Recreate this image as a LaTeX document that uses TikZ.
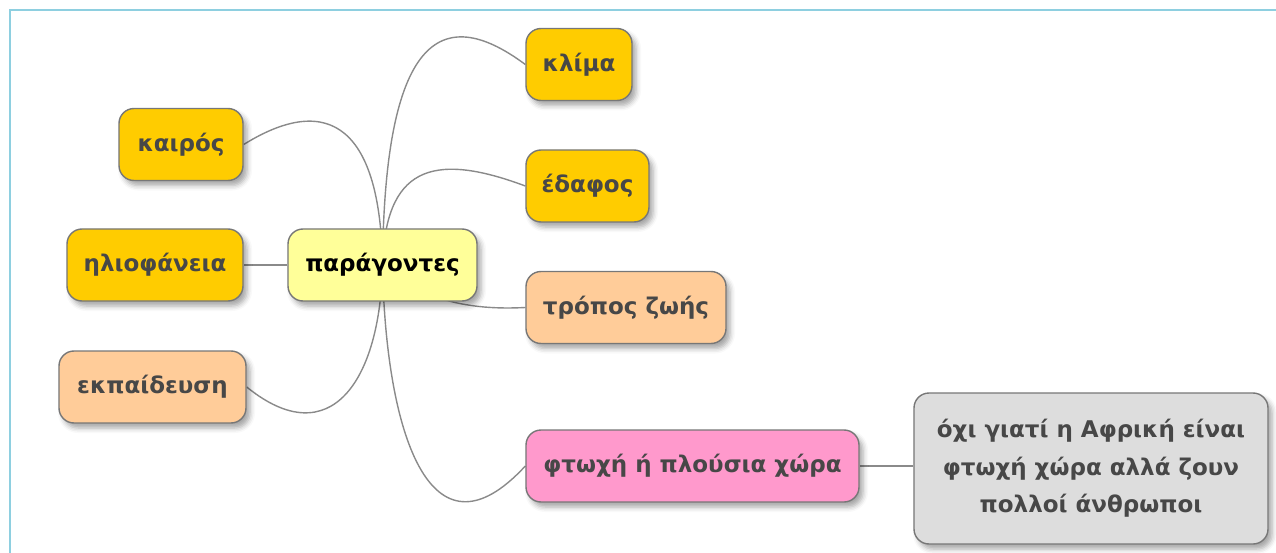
\documentclass[tikz,border=0pt]{standalone}
\usepackage{fontspec}
\setmainfont{DejaVu Sans}
\usetikzlibrary{shadows.blur,backgrounds}
\definecolor{framecol}{HTML}{8ECFE0}
\definecolor{gold}{HTML}{FFCC00}
\definecolor{paleyellow}{HTML}{FFFF99}
\definecolor{peach}{HTML}{FFCC99}
\definecolor{pink}{HTML}{FF99CC}
\definecolor{lightgray}{HTML}{DDDDDD}
\definecolor{bordergray}{HTML}{777777}
\definecolor{linegray}{HTML}{8A8A8A}
\definecolor{textgray}{HTML}{474747}

\begin{document}
\begin{tikzpicture}[x=1pt,y=-1pt,
    idea/.style={draw=bordergray, line width=1.4pt, rounded corners=15pt,
        minimum height=72pt, inner sep=2pt, text=textgray,
        font=\fontsize{23}{28}\selectfont\bfseries,
        blur shadow={shadow xshift=4pt, shadow yshift=-5pt,
            shadow blur radius=5pt, shadow opacity=35}},
    link/.style={draw=linegray, line width=1.4pt}]
    \useasboundingbox (0,0) rectangle (1276,553);
    \draw[framecol, line width=2pt] (10,553) -- (10,10) -- (1276,10);

    \node[idea, fill=paleyellow, text=black, minimum width=189pt] (root) at (382.5,265) {παράγοντες};
    \node[idea, fill=gold, minimum width=124pt] (kairos) at (181,144.5) {καιρός};
    \node[idea, fill=gold, minimum width=176pt] (ilio) at (155,265) {ηλιοφάνεια};
    \node[idea, fill=peach, minimum width=187pt] (ekp) at (152.5,387) {εκπαίδευση};
    \node[idea, fill=gold, minimum width=106pt] (klima) at (579,64.5) {κλίμα};
    \node[idea, fill=gold, minimum width=123pt] (edafos) at (587.5,186) {έδαφος};
    \node[idea, fill=peach, minimum width=200pt] (tropos) at (626,307.5) {τρόπος ζωής};
    \node[idea, fill=pink, minimum width=333pt] (xora) at (692.5,466) {φτωχή ή πλούσια χώρα};
    \node[idea, fill=lightgray, minimum width=354pt, minimum height=151pt, align=center,
        font=\fontsize{23}{37.5}\selectfont\bfseries] (note) at (1091,468.5)
        {όχι γιατί η Αφρική είναι\\φτωχή χώρα αλλά ζουν\\πολλοί άνθρωποι};

    \begin{scope}[on background layer]
        \draw[link] (root.center) .. controls +(2,-225) and +(-86,-64) .. (klima.west);
        \draw[link] (root.center) .. controls +(3,-95) and +(-96,-36) .. (edafos.west);
        \draw[link] (root.center) .. controls +(38,35) and +(-56,3) .. (tropos.west);
        \draw[link] (root.center) .. controls +(3,165) and +(-96,104) .. (xora.west);
        \draw[link] (root.center) .. controls +(-2,-135) and +(87,-54) .. (kairos.east);
        \draw[link] (root.center) .. controls +(-2,115) and +(84,68) .. (ekp.east);
        \draw[link] (root.west) -- (ilio.east);
        \draw[link] (xora.east) -- (xora.east -| note.west);
    \end{scope}
\end{tikzpicture}
\end{document}
